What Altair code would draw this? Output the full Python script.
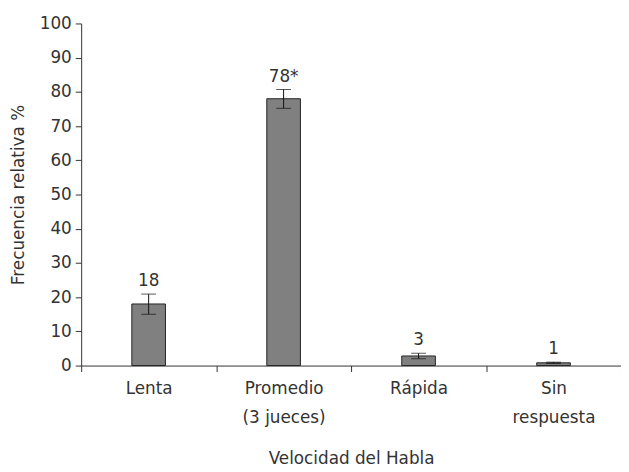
import altair as alt
import pandas as pd

categories = ["Lenta", "Promedio|(3 jueces)", "Rápida", "Sin|respuesta"]
values = [18, 78, 2.8, 0.8]
err_low = [15, 75.2, 2.0, 0.6]
err_high = [20.9, 80.7, 3.6, 1.0]
labels = ["18", "78*", "3", "1"]

df = pd.DataFrame({"cat": categories, "val": values, "lo": err_low, "hi": err_high, "lab": labels})

FONT = "DejaVu Sans"
TXT = "#333333"
FS = 17

xaxis = alt.Axis(labelAngle=0, tickBand="extent", labelExpr="split(datum.label, '|')",
                 labelLineHeight=30, labelPadding=9, titlePadding=25)
yaxis = alt.Axis(values=list(range(0, 101, 10)), grid=False, labelOverlap=False,
                 titlePadding=12, labelPadding=4)
yscale = alt.Scale(domain=[0, 100])
xscale = alt.Scale(paddingInner=0, paddingOuter=0)


def X():
    return alt.X("cat:N", sort=categories, title="Velocidad del Habla", scale=xscale, axis=xaxis)


def Y(field):
    return alt.Y(field, title="Frecuencia relativa %", scale=yscale, axis=yaxis)


base = alt.Chart(df)
bars = base.mark_bar(size=34, color="#808080", stroke="#222222", strokeWidth=1).encode(x=X(), y=Y("val:Q"))
rule = base.mark_rule(color="#111111", strokeWidth=1).encode(x=X(), y=Y("lo:Q"), y2="hi:Q")
cap_lo = base.mark_tick(color="#111111", size=15, thickness=1).encode(x=X(), y=Y("lo:Q"))
cap_hi = base.mark_tick(color="#111111", size=15, thickness=1).encode(x=X(), y=Y("hi:Q"))
text = base.mark_text(baseline="bottom", dy=-4, font=FONT, fontSize=FS, color=TXT).encode(
    x=X(), y=Y("hi:Q"), text="lab:N")

chart = alt.layer(bars, rule, cap_lo, cap_hi, text).properties(
    width=546, height=346,
    autosize=alt.AutoSizeParams(type="none"),
    padding={"left": 74, "top": 13, "right": 0, "bottom": 104},
).configure_view(stroke=None).configure_axis(
    domainColor="#333333", tickColor="#333333", tickSize=6,
    labelFont=FONT, labelFontSize=FS, labelColor=TXT,
    titleFont=FONT, titleFontSize=FS, titleColor=TXT, titleFontWeight="normal",
)

chart.save("out.html", embed_options={"renderer": "svg", "actions": False})
